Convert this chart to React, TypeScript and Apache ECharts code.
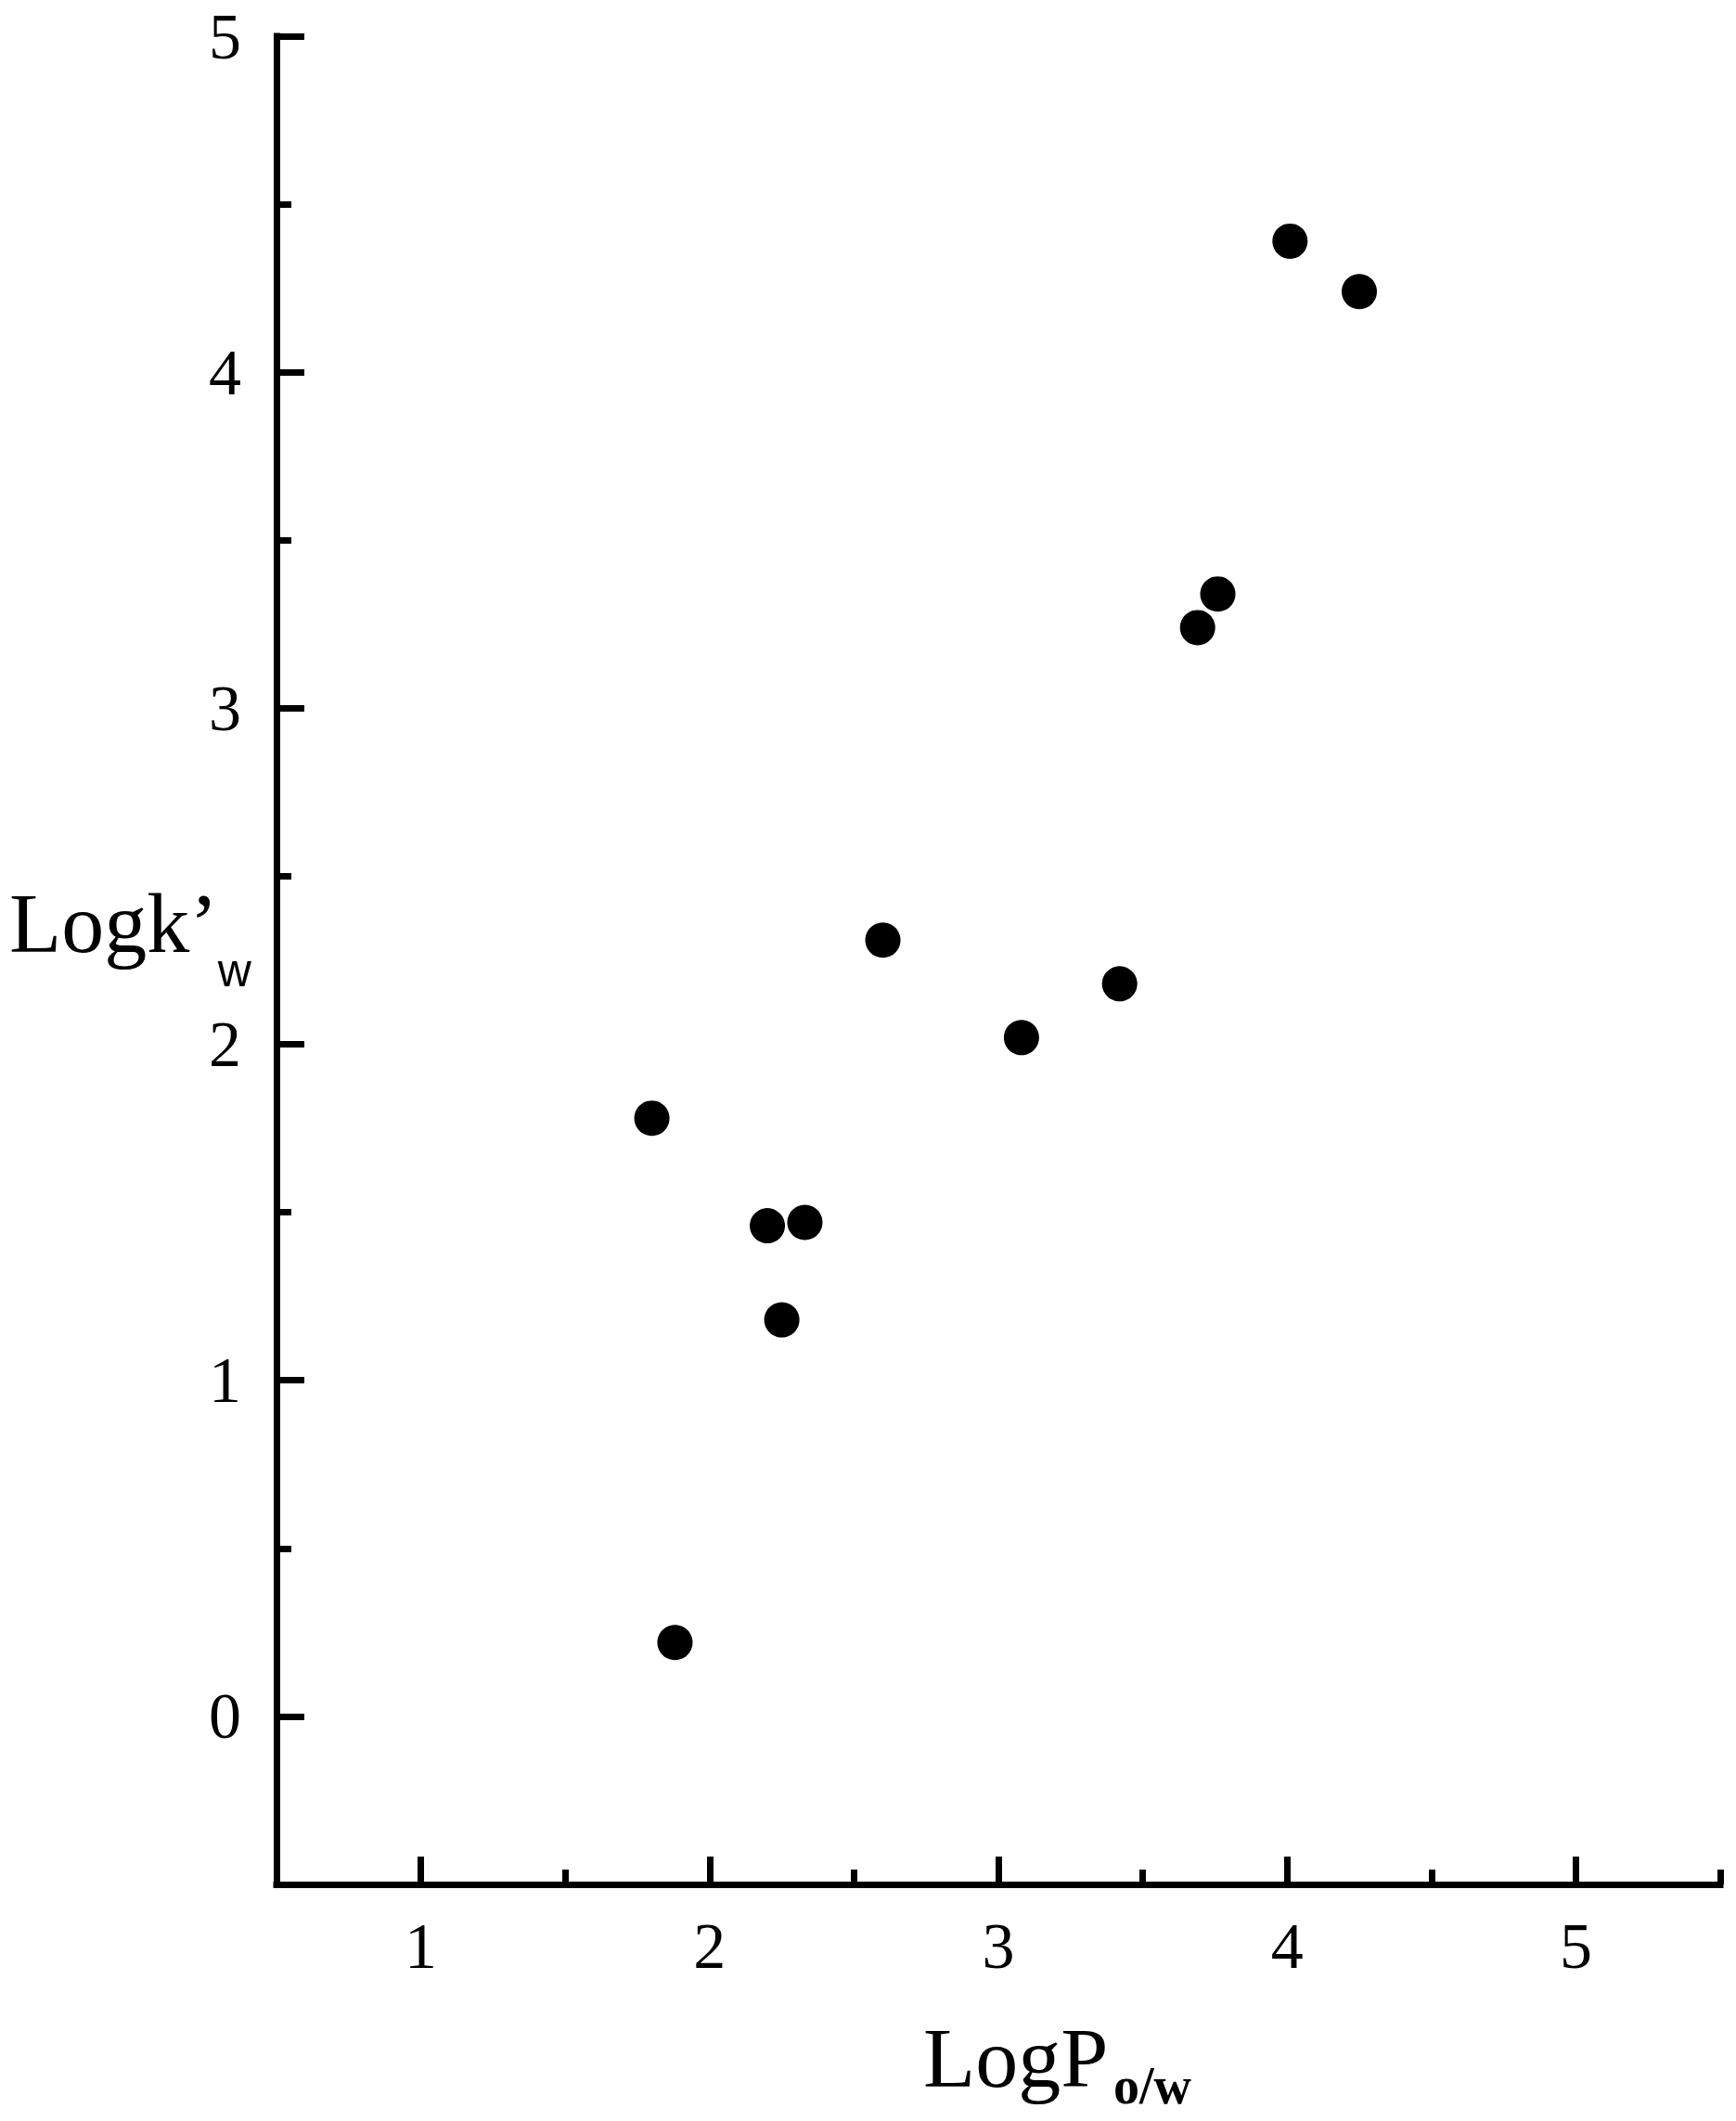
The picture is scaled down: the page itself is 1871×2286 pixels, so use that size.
import React, { useEffect, useRef } from "react";
import * as echarts from "echarts";

// Data
const logPow = [1.80, 1.88, 2.20, 2.25, 2.33, 2.60, 3.08, 3.42, 3.69, 3.76, 4.01, 4.25];
const logKw = [1.78, 0.22, 1.46, 1.18, 1.47, 2.31, 2.02, 2.18, 3.24, 3.34, 4.39, 4.24];

const xMajorTicks = [1, 2, 3, 4, 5];
const xMinorTicks = [1.5, 2.5, 3.5, 4.5, 5.5];
const yMajorTicks = [0, 1, 2, 3, 4, 5];
const yMinorTicks = [0.5, 1.5, 2.5, 3.5, 4.5];

const X_MIN = 0.5;
const X_MAX = 5.5;
const Y_MIN = -0.5;
const Y_MAX = 5;

const SERIF = "'Liberation Serif', 'Times New Roman', serif";
const SANS = "'Liberation Sans', Arial, sans-serif";

export default function App() {
  const ref = useRef<HTMLDivElement>(null);

  useEffect(() => {
    if (!ref.current) return;
    const chart = echarts.init(ref.current, null, { renderer: "svg" });
    const data = logPow.map((x, i) => [x, logKw[i]]);
    const lineStyle = { color: "#000", width: 7, cap: "square" };
    const tickStyle = { color: "#000", width: 7 };

    const option: any = {
      animation: false,
      backgroundColor: "#fff",
      grid: {
        left: 298,
        right: 17,
        top: 39,
        bottom: 255,
        outerBoundsMode: "none",
      },
      xAxis: [
        {
          type: "value",
          position: "bottom",
          min: X_MIN,
          max: X_MAX,
          axisLine: { show: true, onZero: false, lineStyle },
          axisTick: {
            show: true,
            inside: true,
            length: 30,
            customValues: xMajorTicks,
            lineStyle: tickStyle,
          },
          axisLabel: {
            show: true,
            customValues: xMajorTicks,
            margin: 31,
            color: "#000",
            fontFamily: SERIF,
            fontSize: 70,
          },
          splitLine: { show: false },
        },
        {
          type: "value",
          position: "bottom",
          min: X_MIN,
          max: X_MAX,
          axisLine: { show: false, onZero: false },
          axisTick: {
            show: true,
            inside: true,
            length: 16,
            customValues: xMinorTicks,
            lineStyle: tickStyle,
          },
          axisLabel: { show: false },
          splitLine: { show: false },
        },
      ],
      yAxis: [
        {
          type: "value",
          position: "left",
          min: Y_MIN,
          max: Y_MAX,
          axisLine: { show: true, onZero: false, lineStyle },
          axisTick: {
            show: true,
            inside: true,
            length: 30,
            customValues: yMajorTicks,
            lineStyle: tickStyle,
          },
          axisLabel: {
            show: true,
            customValues: yMajorTicks,
            margin: 38,
            color: "#000",
            fontFamily: SERIF,
            fontSize: 70,
          },
          splitLine: { show: false },
        },
        {
          type: "value",
          position: "left",
          min: Y_MIN,
          max: Y_MAX,
          axisLine: { show: false, onZero: false },
          axisTick: {
            show: true,
            inside: true,
            length: 16,
            customValues: yMinorTicks,
            lineStyle: tickStyle,
          },
          axisLabel: { show: false },
          splitLine: { show: false },
        },
      ],
      series: [
        {
          type: "scatter",
          xAxisIndex: 0,
          yAxisIndex: 0,
          data,
          symbol: "circle",
          symbolSize: 38,
          itemStyle: { color: "#000", opacity: 1 },
        },
      ],
      graphic: [
        {
          type: "text",
          left: 10,
          top: 949,
          style: {
            text: "{a|Logk\u2019}{b|w}",
            fill: "#000",
            rich: {
              a: {
                fontFamily: SERIF,
                fontSize: 92,
                lineHeight: 92,
                color: "#000",
                verticalAlign: "bottom",
                padding: [0, 0, 30, 0],
              },
              b: {
                fontFamily: SANS,
                fontSize: 50,
                lineHeight: 50,
                color: "#000",
                verticalAlign: "bottom",
              },
            },
          },
        },
        {
          type: "text",
          left: 995,
          top: 2172,
          style: {
            text: "{a|LogP}{b|o/w}",
            fill: "#000",
            rich: {
              a: {
                fontFamily: SERIF,
                fontSize: 92,
                lineHeight: 92,
                width: 205,
                color: "#000",
                verticalAlign: "bottom",
                padding: [0, 0, 12, 0],
              },
              b: {
                fontFamily: SERIF,
                fontWeight: "bold",
                fontSize: 56,
                lineHeight: 56,
                color: "#000",
                verticalAlign: "bottom",
              },
            },
          },
        },
      ],
    };

    chart.setOption(option);
    return () => {
      chart.dispose();
    };
  }, []);

  return (
    <div
      ref={ref}
      style={{ position: "absolute", left: 0, top: 0, width: 1871, height: 2286, background: "#fff" }}
    />
  );
}
